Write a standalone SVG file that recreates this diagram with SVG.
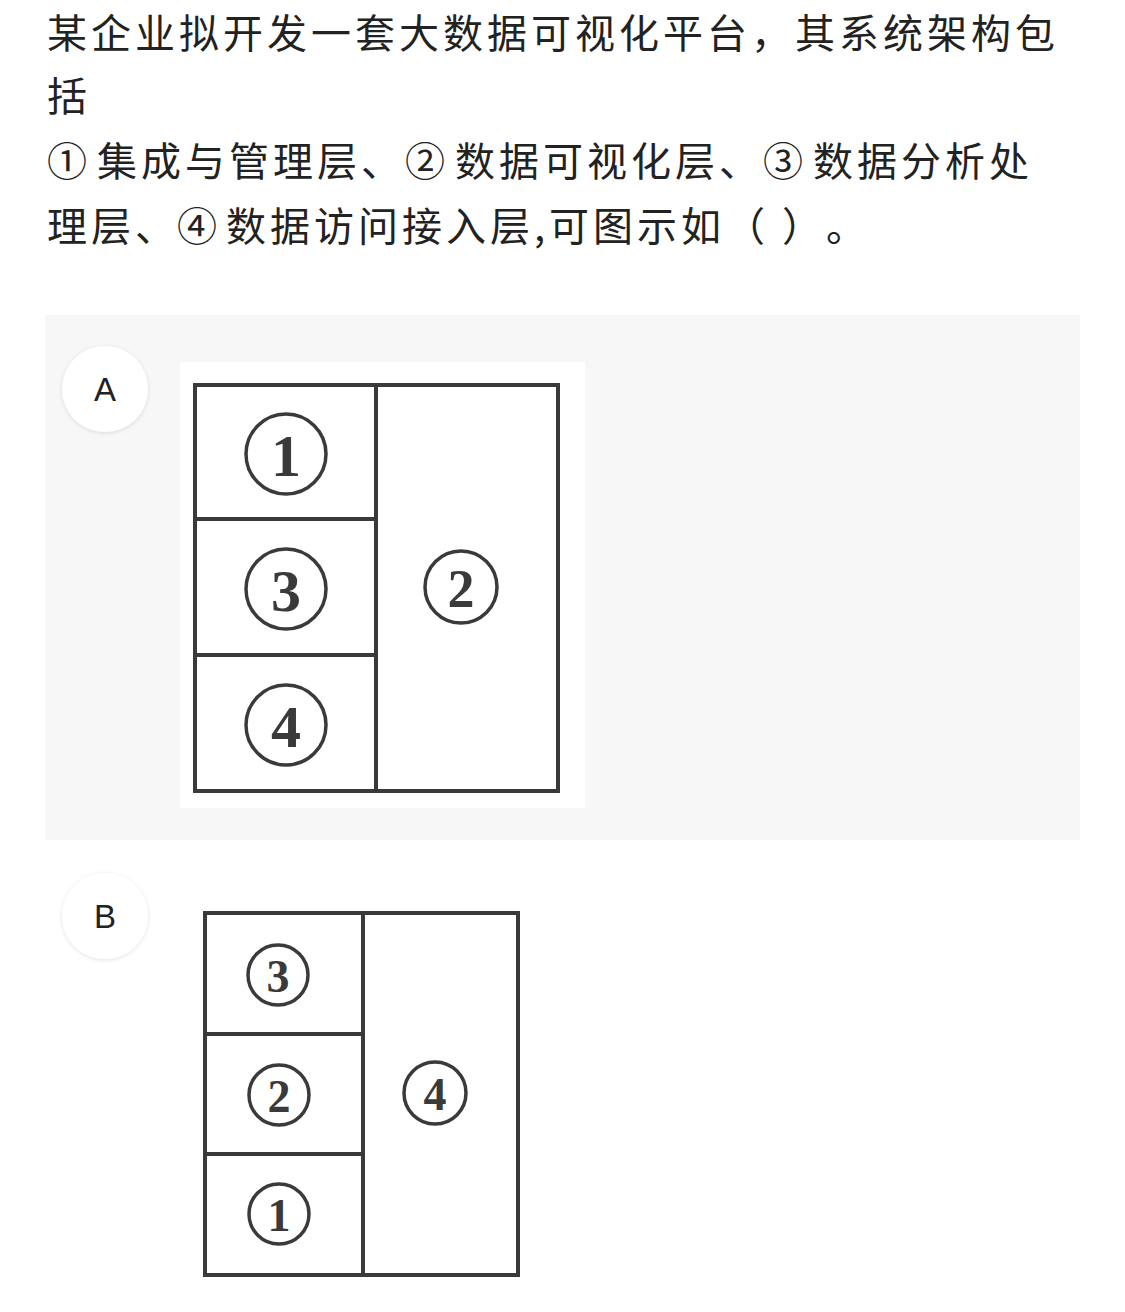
<svg xmlns="http://www.w3.org/2000/svg" width="1125" height="1312" viewBox="0 0 1125 1312">
<defs>
<style>
.q{font-family:"Noto Sans CJK SC","Noto Sans",sans-serif;font-size:40px;fill:#222;letter-spacing:4px;text-spacing-trim:space-all;font-kerning:none}
.lbl{font-family:"Liberation Sans",Arial,sans-serif;font-size:33px;fill:#222;text-anchor:middle}
.box{fill:#fff;stroke:#3a3a3a;stroke-width:4}
.ln{stroke:#3a3a3a;stroke-width:4;fill:none}
.cir{fill:none;stroke:#3a3a3a;stroke-width:3.5}
.num{font-family:"Liberation Serif","Times New Roman",serif;font-weight:bold;fill:#3a3a3a;text-anchor:middle}
</style>
<filter id="sh" x="-30%" y="-30%" width="160%" height="160%">
<feDropShadow dx="0" dy="1" stdDeviation="2" flood-color="#000" flood-opacity="0.12"/>
</filter>
</defs>
<rect width="1125" height="1312" fill="#fff"/>
<g id="question">
<text class="q" x="47" y="48">某企业拟开发一套大数据可视化平台，其系统架构包</text>
<text class="q" x="47" y="111">括</text>
<text class="q" x="47" y="176">①<tspan dx="6">集成与管理层、</tspan>②<tspan dx="6">数据可视化层、</tspan>③<tspan dx="6">数据分析处</tspan></text>
<text class="q" x="47" y="241">理层、<tspan dx="-2">④</tspan><tspan dx="5">数据访问接入层,可图示如（ ）。</tspan></text>
</g>
<g id="optionA">
<rect x="45" y="315" width="1035" height="525" fill="#f7f7f7"/>
<g id="labelA"><circle cx="105" cy="389" r="43" fill="#fff" filter="url(#sh)"/><text class="lbl" x="105" y="401">A</text></g>
<rect x="180" y="362" width="405" height="446" fill="#fff"/>
<rect class="box" x="195" y="385" width="363" height="406"/>
<line class="ln" x1="376" y1="385" x2="376" y2="791"/>
<line class="ln" x1="195" y1="519" x2="376" y2="519"/>
<line class="ln" x1="195" y1="655" x2="376" y2="655"/>
<g id="A1"><circle class="cir" cx="286" cy="454" r="40"/><text class="num" x="286" y="476" font-size="60">1</text></g>
<g id="A3"><circle class="cir" cx="286" cy="589" r="40"/><text class="num" x="286" y="611" font-size="60">3</text></g>
<g id="A4"><circle class="cir" cx="286" cy="725" r="40"/><text class="num" x="286" y="747" font-size="60">4</text></g>
<g id="A2"><circle class="cir" cx="461" cy="587" r="36"/><text class="num" x="461" y="607" font-size="54">2</text></g>
</g>
<g id="optionB">
<g id="labelB"><circle cx="105" cy="916" r="43" fill="#fff" filter="url(#sh)"/><text class="lbl" x="105" y="928">B</text></g>
<rect class="box" x="205" y="913" width="313" height="362"/>
<line class="ln" x1="363" y1="913" x2="363" y2="1275"/>
<line class="ln" x1="205" y1="1034" x2="363" y2="1034"/>
<line class="ln" x1="205" y1="1154" x2="363" y2="1154"/>
<g id="B3"><circle class="cir" cx="278" cy="975" r="30"/><text class="num" x="278" y="992" font-size="46">3</text></g>
<g id="B2"><circle class="cir" cx="279" cy="1095" r="30"/><text class="num" x="279" y="1112" font-size="46">2</text></g>
<g id="B1"><circle class="cir" cx="279" cy="1214" r="30"/><text class="num" x="279" y="1231" font-size="46">1</text></g>
<g id="B4"><circle class="cir" cx="435" cy="1093" r="31"/><text class="num" x="435" y="1110" font-size="46">4</text></g>
</g>
<g id="connectors"/>
</svg>
